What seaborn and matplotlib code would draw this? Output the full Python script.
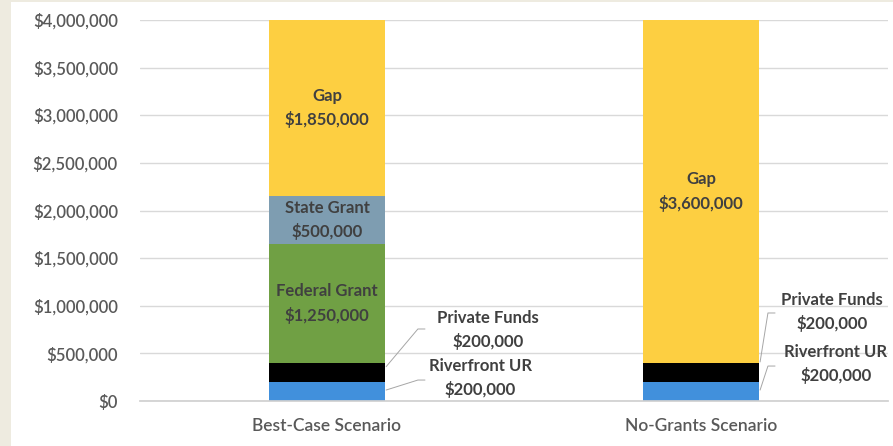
import numpy as np
import pandas as pd
import matplotlib.pyplot as plt
import matplotlib.patches as mpatches
from matplotlib.ticker import FuncFormatter
import seaborn as sns

# Datos del gráfico
scenarios = ["Best-Case Scenario", "No-Grants Scenario"]
sources = ["Riverfront UR", "Private Funds", "Federal Grant", "State Grant", "Gap"]
best_case = [200000, 200000, 1250000, 500000, 1850000]
no_grants = [200000, 200000, 0, 0, 3600000]
colors = {
    "Riverfront UR": "#4190dc",
    "Private Funds": "#000000",
    "Federal Grant": "#70a044",
    "State Grant": "#7e9db1",
    "Gap": "#fdcf41",
}

sns.set_theme(style="white")
plt.rcParams['font.family'] = ['Lato', 'DejaVu Sans']
text_color = "#404040"
tick_color = "#595959"

df = pd.DataFrame({"fuente": sources, scenarios[0]: best_case, scenarios[1]: no_grants})
long = df.melt(id_vars="fuente", var_name="escenario", value_name="valor")
long["acum"] = long.groupby("escenario")["valor"].cumsum()
long["base"] = long["acum"] - long["valor"]

fig = plt.figure(figsize=(8.93, 4.46), dpi=100)
fig.patch.set_facecolor("#eeebe0")
fig.add_artist(mpatches.Rectangle((11 / 893, 0), 1, 1 - 2 / 446, transform=fig.transFigure,
                                  facecolor="white", edgecolor="none", zorder=0))
ax = fig.add_axes([140 / 893, 1 - 401 / 446, 748 / 893, 381 / 446])
ax.set_facecolor("none")

# Barras apiladas: dibujar acumulados de arriba hacia abajo
for fuente in reversed(sources):
    sub = long[long["fuente"] == fuente]
    sns.barplot(data=sub, x="escenario", y="acum", order=scenarios, color=colors[fuente],
                width=0.31, saturation=1, ax=ax, zorder=2, edgecolor="none")

ax.set_ylim(0, 4000000)
ax.set_yticks(np.arange(0, 4000001, 500000))
ax.yaxis.set_major_formatter(FuncFormatter(lambda v, p: f"${v:,.0f}"))
ax.grid(axis="y", color="#d9d9d9", linewidth=1, zorder=0)
ax.set_axisbelow(True)
for s in ["top", "right", "left"]:
    ax.spines[s].set_visible(False)
ax.spines["bottom"].set_color("#d0d0d0")
ax.tick_params(axis="y", length=0, labelsize=12, labelcolor=tick_color, pad=16)
ax.tick_params(axis="x", length=0, labelsize=12.5, labelcolor=tick_color, pad=12)
for t in ax.get_xticklabels() + ax.get_yticklabels():
    t.set_fontweight("semibold")
ax.set_xlabel("")
ax.set_ylabel("")

# Etiquetas internas
for _, r in long.iterrows():
    if r["valor"] == 0 or r["fuente"] in ("Riverfront UR", "Private Funds"):
        continue
    xi = scenarios.index(r["escenario"])
    yc = r["base"] + r["valor"] / 2
    ax.text(xi, yc, f"{r['fuente']}\n${r['valor']:,.0f}", ha="center", va="center",
            fontsize=12, fontweight="bold", color=text_color, linespacing=1.55, zorder=5)

# Etiquetas externas con líneas guía: (texto x, texto y, inicio y, codo x, codo y, fin x)
outside = {
    ("Best-Case Scenario", "Private Funds"): (0.43, 745000, 360000, 0.243, 756000, 0.262),
    ("Best-Case Scenario", "Riverfront UR"): (0.41, 241000, 115000, 0.243, 220000, 0.262),
    ("No-Grants Scenario", "Private Funds"): (1.35, 934000, 410000, 1.179, 924000, 1.198),
    ("No-Grants Scenario", "Riverfront UR"): (1.36, 388000, 115000, 1.179, 367000, 1.198),
}
for (esc, fuente), (tx, ty, y0, ex, ey, fx) in outside.items():
    r = long[(long["escenario"] == esc) & (long["fuente"] == fuente)].iloc[0]
    xi = scenarios.index(esc)
    ax.text(tx, ty, f"{fuente}\n${r['valor']:,.0f}", ha="center", va="center",
            fontsize=12, fontweight="bold", color=text_color, linespacing=1.55, zorder=5)
    ax.plot([xi + 0.158, ex, fx], [y0, ey, ey], color="#a6a6a6", lw=0.7, zorder=4)

ax.set_xlim(-0.5, 1.5)

plt.savefig("out.png", dpi=100, facecolor=fig.get_facecolor())
plt.close()
